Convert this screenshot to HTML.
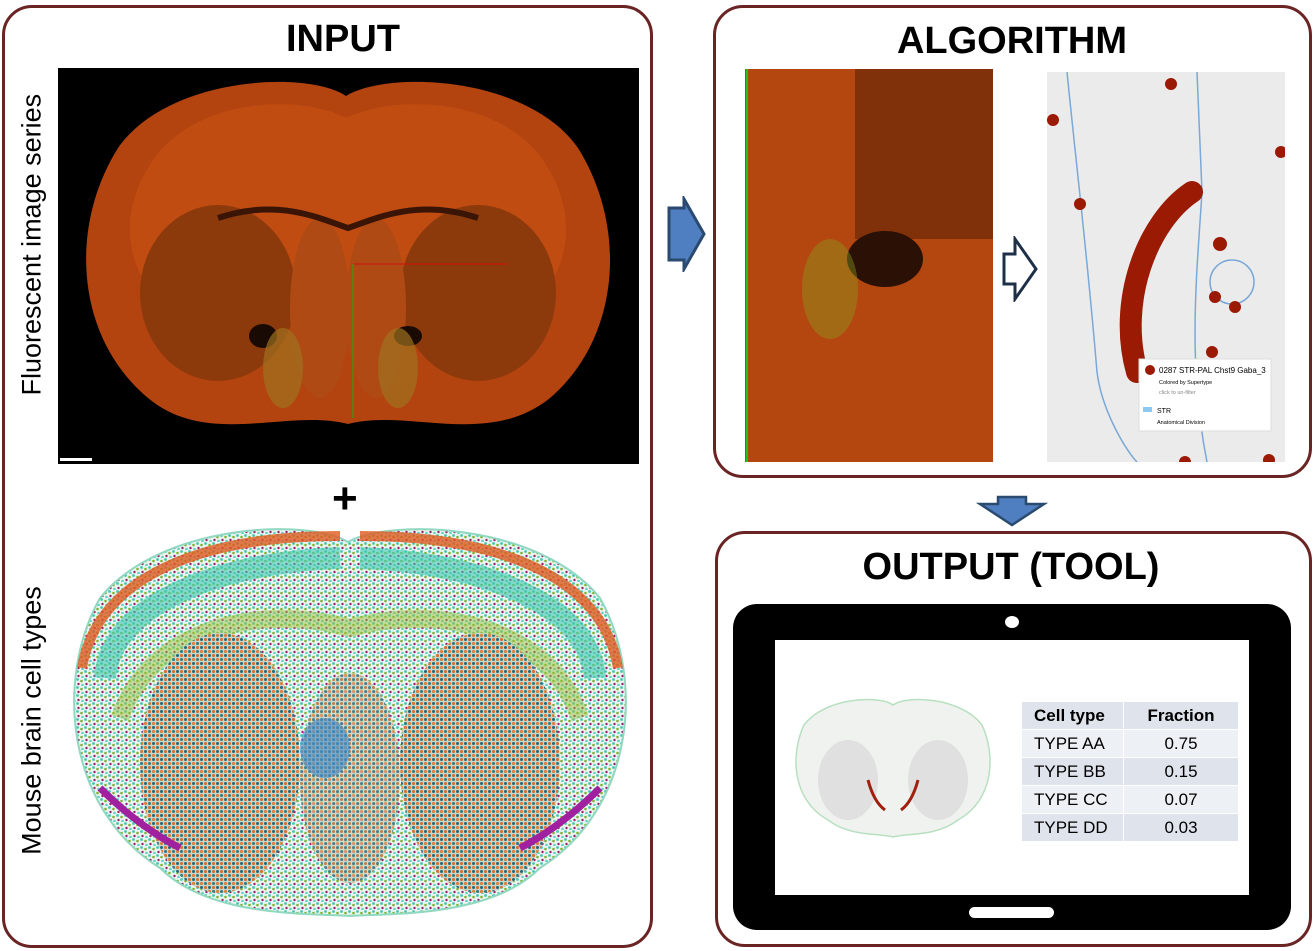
<!DOCTYPE html>
<html><head><meta charset="utf-8"><style>
body{margin:0;width:1314px;height:951px;background:#fff;font-family:"Liberation Sans",sans-serif;overflow:hidden;position:relative}
.panel{position:absolute;border:3px solid #6a2424;border-radius:30px;box-sizing:border-box;background:#fff}
.title{position:absolute;font-weight:bold;font-size:38px;text-align:center;color:#000}
.vt{position:absolute;font-size:27px;transform:rotate(-90deg);transform-origin:center;white-space:nowrap;text-align:center}
table{border-collapse:collapse;font-size:17px}
td{padding:0 12px;height:27px;border:1px solid #fff}
</style></head><body>
<div class="panel" style="left:2px;top:5px;width:651px;height:943px"></div>
<div class="title" style="left:200px;top:18px;width:286px">INPUT</div>
<div class="vt" style="left:-118px;top:230px;width:300px">Fluorescent image series</div>
<div class="vt" style="left:-118px;top:705px;width:300px">Mouse brain cell types</div>

<svg style="position:absolute;left:58px;top:68px" width="581" height="396">
<rect width="581" height="396" fill="#000"/>
<path d="M288,28 C250,2 110,8 60,80 C10,160 18,270 90,330 C150,380 230,340 290,356 C350,340 430,380 492,330 C562,270 570,160 520,80 C470,8 330,2 288,28 Z" fill="#b4440f"/>
<path d="M288,50 C240,25 130,30 90,100 C60,150 70,200 100,230 L480,230 C510,200 520,150 490,100 C450,30 340,25 288,50 Z" fill="#c04c12"/>
<ellipse cx="160" cy="225" rx="78" ry="88" fill="#8c3a0c"/>
<ellipse cx="420" cy="225" rx="78" ry="88" fill="#8c3a0c"/>
<ellipse cx="262" cy="240" rx="30" ry="90" fill="#b04a14"/>
<ellipse cx="318" cy="240" rx="30" ry="90" fill="#b04a14"/>
<ellipse cx="205" cy="268" rx="14" ry="12" fill="#1a0a04"/>
<ellipse cx="350" cy="268" rx="14" ry="10" fill="#1a0a04"/>
<ellipse cx="225" cy="300" rx="20" ry="40" fill="#a07020" opacity=".7"/>
<ellipse cx="340" cy="300" rx="20" ry="40" fill="#a07020" opacity=".7"/>
<path d="M160,150 C220,130 260,150 290,160 C320,150 360,130 420,150" stroke="#3a1505" stroke-width="6" fill="none"/>
<line x1="295" y1="196" x2="450" y2="196" stroke="#d01010" stroke-width="1"/>
<line x1="295" y1="196" x2="295" y2="350" stroke="#10b010" stroke-width="1"/>
<rect x="2" y="390" width="32" height="3" fill="#fff"/>
</svg>
<div style="position:absolute;left:332px;top:474px;font-size:44px;font-weight:bold">+</div>

<svg style="position:absolute;left:60px;top:518px" width="580" height="404">
<defs>
<pattern id="dots" width="8" height="8" patternUnits="userSpaceOnUse">
<rect width="8" height="8" fill="#c8d8d0"/>
<circle cx="1.5" cy="1.5" r="1.6" fill="#e0702a"/><circle cx="5.5" cy="1.5" r="1.5" fill="#1f6878"/>
<circle cx="5.5" cy="5.5" r="1.6" fill="#e0803a"/><circle cx="1.5" cy="5.5" r="1.5" fill="#2a7a80"/>
</pattern>
<pattern id="dots2" width="8" height="8" patternUnits="userSpaceOnUse">
<rect width="8" height="8" fill="#eaf4f0"/>
<circle cx="1.5" cy="1.5" r="1.4" fill="#40c8b0"/><circle cx="5.5" cy="3" r="1.3" fill="#80b030"/>
<circle cx="2.5" cy="6" r="1.2" fill="#a02070"/><circle cx="6.5" cy="7" r="1.3" fill="#60d0c0"/>
</pattern>
</defs>
<path d="M288,24 C250,0 100,5 40,80 C-5,160 5,290 100,350 C150,400 250,395 290,398 C330,395 430,400 480,350 C575,290 585,160 540,80 C480,5 330,0 288,24 Z" fill="url(#dots2)" stroke="#90d8c0" stroke-width="2"/>
<path d="M22,150 C35,70 120,18 280,18" stroke="#e05a20" stroke-width="10" fill="none" opacity=".8"/>
<path d="M558,150 C545,70 460,18 300,18" stroke="#e05a20" stroke-width="10" fill="none" opacity=".8"/>
<path d="M45,160 C50,90 150,45 280,40" stroke="#40c8b0" stroke-width="22" fill="none" opacity=".6"/>
<path d="M535,160 C530,90 430,45 300,40" stroke="#40c8b0" stroke-width="22" fill="none" opacity=".6"/>
<path d="M60,200 C90,110 200,85 290,110 C380,85 490,110 520,200" stroke="#9ac040" stroke-width="18" fill="none" opacity=".5"/>
<ellipse cx="160" cy="245" rx="80" ry="130" fill="url(#dots)"/>
<ellipse cx="420" cy="245" rx="80" ry="130" fill="url(#dots)"/>
<ellipse cx="290" cy="260" rx="50" ry="105" fill="url(#dots)" opacity=".8"/>
<ellipse cx="265" cy="230" rx="25" ry="30" fill="#3a8ad0" opacity=".6"/>
<path d="M40,270 C70,300 100,320 120,330" stroke="#a020a0" stroke-width="7" fill="none"/>
<path d="M540,270 C510,300 480,320 460,330" stroke="#a020a0" stroke-width="7" fill="none"/>
</svg>

<svg style="position:absolute;left:666px;top:196px" width="42" height="76">
<path d="M3,12 L18,12 L18,3 L38,38 L18,73 L18,64 L3,64 Z" fill="#4f7fc0" stroke="#2a4a70" stroke-width="3"/>
</svg>

<div class="panel" style="left:713px;top:5px;width:599px;height:473px"></div>
<div class="title" style="left:862px;top:20px;width:300px">ALGORITHM</div>
<svg style="position:absolute;left:745px;top:69px" width="248" height="393">
<rect width="248" height="393" fill="#b4460f"/>
<rect x="110" y="0" width="138" height="170" fill="#6a2808" opacity=".7"/>
<ellipse cx="140" cy="190" rx="38" ry="28" fill="#2a1005"/>
<ellipse cx="85" cy="220" rx="28" ry="50" fill="#8aa020" opacity=".4"/>
<line x1="2" y1="0" x2="2" y2="393" stroke="#20c020" stroke-width="2"/>
</svg>
<svg style="position:absolute;left:1001px;top:236px" width="38" height="66">
<path d="M3,18 L14,18 L14,3 L35,33 L14,63 L14,48 L3,48 Z" fill="#fff" stroke="#1e3048" stroke-width="3"/>
</svg>
<svg style="position:absolute;left:1047px;top:72px" width="238" height="390">
<rect width="238" height="390" fill="#ebebeb"/>
<path d="M20,0 C30,100 40,180 50,300 C55,340 80,380 90,390" stroke="#7aa8d8" stroke-width="1.5" fill="none"/>
<path d="M150,0 L155,120 C150,200 140,290 160,390" stroke="#7aa8d8" stroke-width="1.5" fill="none"/>
<circle cx="185" cy="210" r="22" fill="none" stroke="#7aa8d8" stroke-width="1.5"/>
<path d="M145,120 C100,150 70,230 90,300" stroke="#9a1a04" stroke-width="22" fill="none" stroke-linecap="round"/>
<g fill="#9a1a04"><circle cx="124" cy="12" r="6"/><circle cx="6" cy="48" r="6"/><circle cx="234" cy="80" r="6"/><circle cx="33" cy="132" r="6"/><circle cx="173" cy="172" r="7"/><circle cx="188" cy="235" r="6"/><circle cx="168" cy="225" r="6"/><circle cx="165" cy="280" r="6"/><circle cx="138" cy="390" r="6"/><circle cx="222" cy="388" r="6"/></g>
<rect x="92" y="287" width="132" height="72" fill="#fff" stroke="#ddd"/>
<circle cx="103" cy="298" r="5" fill="#9a1a04"/>
<text x="112" y="301" font-size="8" font-family="Liberation Sans">0287 STR-PAL Chst9 Gaba_3</text>
<text x="112" y="312" font-size="5.5" font-family="Liberation Sans">Colored by Supertype</text>
<text x="112" y="322" font-size="5.5" fill="#888" font-family="Liberation Sans">click to un-filter</text>
<rect x="96" y="335" width="9" height="5" fill="#8cc8f0"/>
<text x="110" y="341" font-size="7" font-family="Liberation Sans">STR</text>
<text x="110" y="352" font-size="5.5" font-family="Liberation Sans">Anatomical Division</text>
</svg>

<svg style="position:absolute;left:976px;top:494px" width="72" height="34">
<path d="M22,3 L50,3 L50,10 L68,10 L36,31 L4,10 L22,10 Z" fill="#4f7fc0" stroke="#2a4a70" stroke-width="2.5"/>
</svg>

<div class="panel" style="left:715px;top:531px;width:597px;height:416px"></div>
<div class="title" style="left:811px;top:546px;width:400px">OUTPUT (TOOL)</div>
<div style="position:absolute;left:733px;top:604px;width:558px;height:326px;background:#000;border-radius:24px"></div>
<div style="position:absolute;left:1005px;top:616px;width:14px;height:12px;background:#fff;border-radius:50%"></div>
<div style="position:absolute;left:969px;top:907px;width:85px;height:11px;background:#fff;border-radius:6px"></div>
<div style="position:absolute;left:775px;top:640px;width:474px;height:255px;background:#fff"></div>
<svg style="position:absolute;left:790px;top:695px" width="210" height="145">
<path d="M103,10 C90,0 35,2 14,30 C0,60 2,105 38,125 C60,142 90,138 103,142 C116,138 146,142 168,125 C204,105 206,60 192,30 C171,2 116,0 103,10 Z" fill="#f0f2f0" stroke="#b8e0c0" stroke-width="1.5"/>
<ellipse cx="58" cy="85" rx="30" ry="40" fill="#e0e0e0"/><ellipse cx="148" cy="85" rx="30" ry="40" fill="#e0e0e0"/>
<path d="M78,85 C82,100 88,110 95,115" stroke="#a02010" stroke-width="3" fill="none"/>
<path d="M128,85 C124,100 118,110 111,115" stroke="#a02010" stroke-width="3" fill="none"/>
</svg>
<table style="position:absolute;left:1021px;top:701px">
<tr style="background:#dfe4ec;font-weight:bold"><td style="width:77px">Cell type</td><td style="width:90px;text-align:center">Fraction</td></tr>
<tr style="background:#edf0f5"><td>TYPE AA</td><td style="text-align:center">0.75</td></tr>
<tr style="background:#dfe4ec"><td>TYPE BB</td><td style="text-align:center">0.15</td></tr>
<tr style="background:#edf0f5"><td>TYPE CC</td><td style="text-align:center">0.07</td></tr>
<tr style="background:#dfe4ec"><td>TYPE DD</td><td style="text-align:center">0.03</td></tr>
</table>
</body></html>
